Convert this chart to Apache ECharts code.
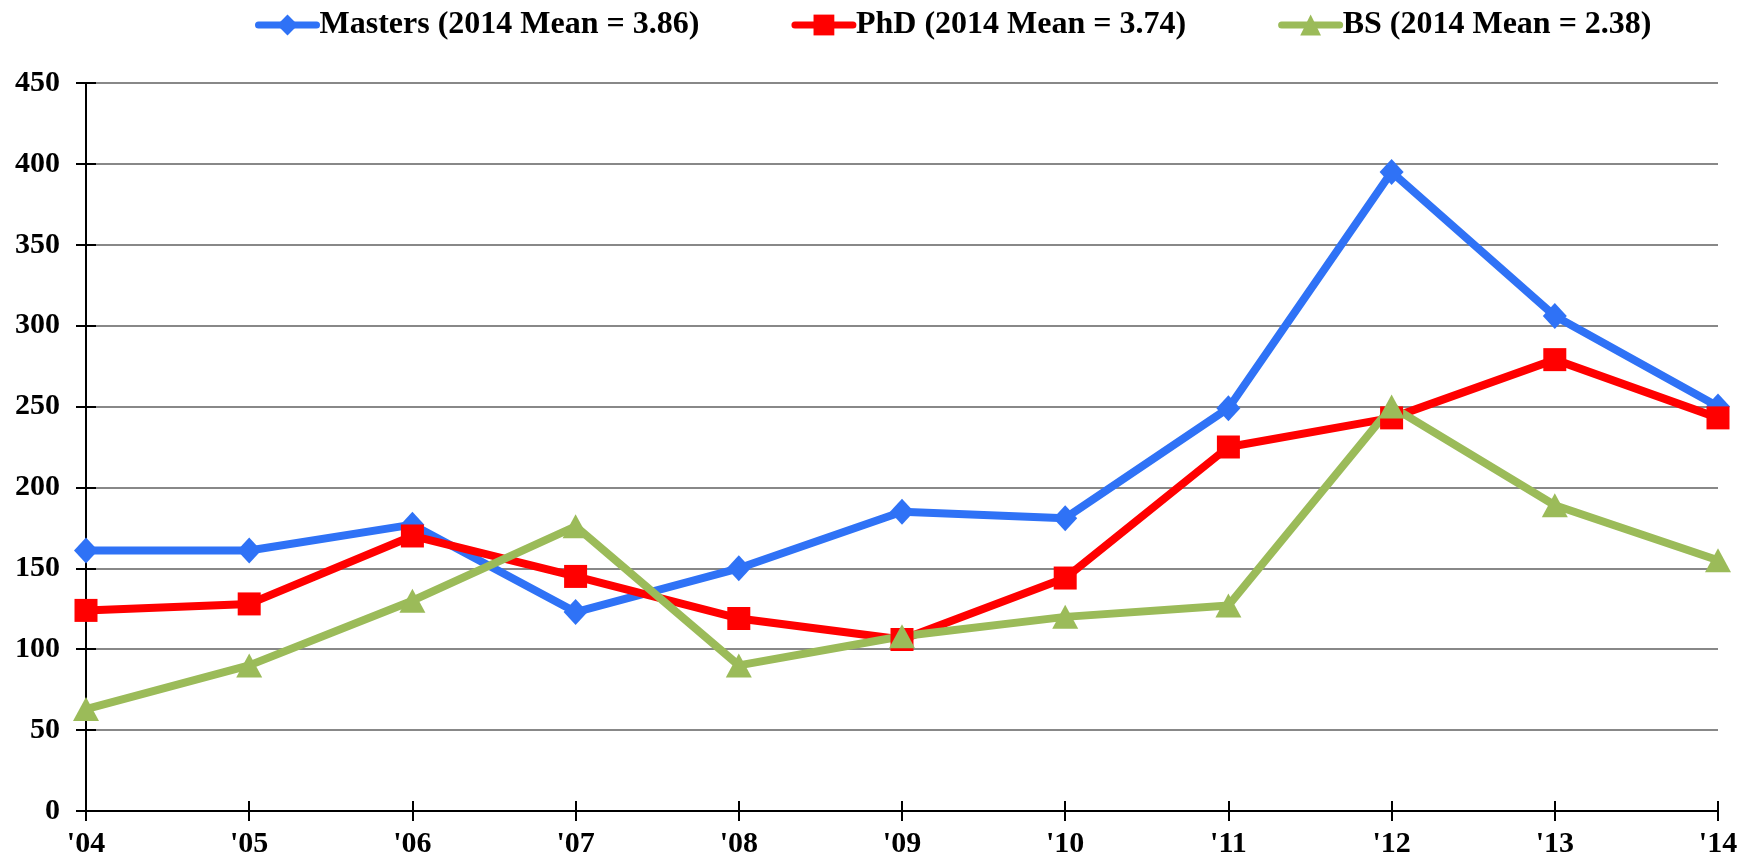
<!DOCTYPE html>
<html>
<head lang="en">
    <meta charset="UTF-8">
    <title></title>
    <style>
        html, body { margin: 0; padding: 0; background: #fff; }
    </style>
</head>
<body>
    <div id="main" style="width:1760px;height:868px"></div>

    <script src="https://cdn.jsdelivr.net/npm/echarts@6/dist/echarts.min.js"></script>
    <script>
        /* data */
        var years = ["'04", "'05", "'06", "'07", "'08", "'09", "'10", "'11", "'12", "'13", "'14"];
        var masters = [161, 161, 177, 123, 150, 185, 181, 249, 395, 306, 250];
        var phd = [124, 128, 170, 145, 119, 106, 144, 225, 243, 279, 243];
        var bs = [63, 90, 130, 176, 90, 108, 120, 127, 250, 189, 155];
        var names = ['Masters (2014 Mean = 3.86)', 'PhD (2014 Mean = 3.74)', 'BS (2014 Mean = 2.38)'];

        var font = '"Liberation Serif", "Times New Roman", serif';
        var gridBox = {left: 86, right: 42, top: 83, bottom: 57};
        var tickStyle = {color: '#000', width: 2};

        var app = echarts.init(document.getElementById('main'));
        option = {
            animation: false,
            backgroundColor: '#fff',
            legend: {
                data: names,
                left: 250,
                top: 4,
                itemWidth: 58,
                itemHeight: 26,
                itemGap: 92,
                lineStyle: {width: 7, cap: 'round'},
                textStyle: {fontFamily: font, fontWeight: 'bold', fontSize: 32, color: '#000', padding: [0, 0, 0, -2]}
            },
            grid: [
                Object.assign({}, gridBox),
                Object.assign({}, gridBox)   // second grid only for the inner half of the ticks
            ],
            xAxis: [
                {
                    type: 'category',
                    gridIndex: 0,
                    data: years,
                    boundaryGap: false,
                    axisLine: {lineStyle: {color: '#000', width: 2}},
                    axisTick: {show: true, length: 10, lineStyle: tickStyle},
                    axisLabel: {fontFamily: font, fontWeight: 'bold', fontSize: 30, color: '#000', margin: 18},
                    splitLine: {show: false}
                },
                {
                    type: 'category',
                    gridIndex: 1,
                    data: years,
                    boundaryGap: false,
                    axisLine: {show: false},
                    axisTick: {show: true, inside: true, length: 10, lineStyle: tickStyle},
                    axisLabel: {show: false},
                    splitLine: {show: false}
                }
            ],
            yAxis: [
                {
                    type: 'value',
                    gridIndex: 0,
                    min: 0,
                    max: 450,
                    interval: 50,
                    axisLine: {show: true, lineStyle: {color: '#000', width: 2}},
                    axisTick: {show: true, length: 10, lineStyle: tickStyle},
                    axisLabel: {fontFamily: font, fontWeight: 'bold', fontSize: 30, color: '#000', margin: 26},
                    splitLine: {show: true, lineStyle: {color: '#888', width: 2}}
                },
                {
                    type: 'value',
                    gridIndex: 1,
                    min: 0,
                    max: 450,
                    interval: 50,
                    axisLine: {show: false},
                    axisTick: {show: true, inside: true, length: 10, lineStyle: tickStyle},
                    axisLabel: {show: false},
                    splitLine: {show: false}
                }
            ],
            series: [
                {
                    name: names[0],
                    type: 'line',
                    data: masters,
                    symbol: 'diamond',
                    symbolSize: [24, 26],
                    itemStyle: {color: '#2F72F6'},
                    lineStyle: {color: '#2F72F6', width: 8}
                },
                {
                    name: names[1],
                    type: 'line',
                    data: phd,
                    symbol: 'rect',
                    symbolSize: 23,
                    itemStyle: {color: '#FF0000'},
                    lineStyle: {color: '#FF0000', width: 8}
                },
                {
                    name: names[2],
                    type: 'line',
                    data: bs,
                    symbol: 'triangle',
                    symbolSize: [26, 24],
                    itemStyle: {color: '#9BBB59'},
                    lineStyle: {color: '#9BBB59', width: 8}
                }
            ]
        };
        app.setOption(option);
        window.onresize = function(){
            app.resize();
        };
    </script>
</body>
</html>
